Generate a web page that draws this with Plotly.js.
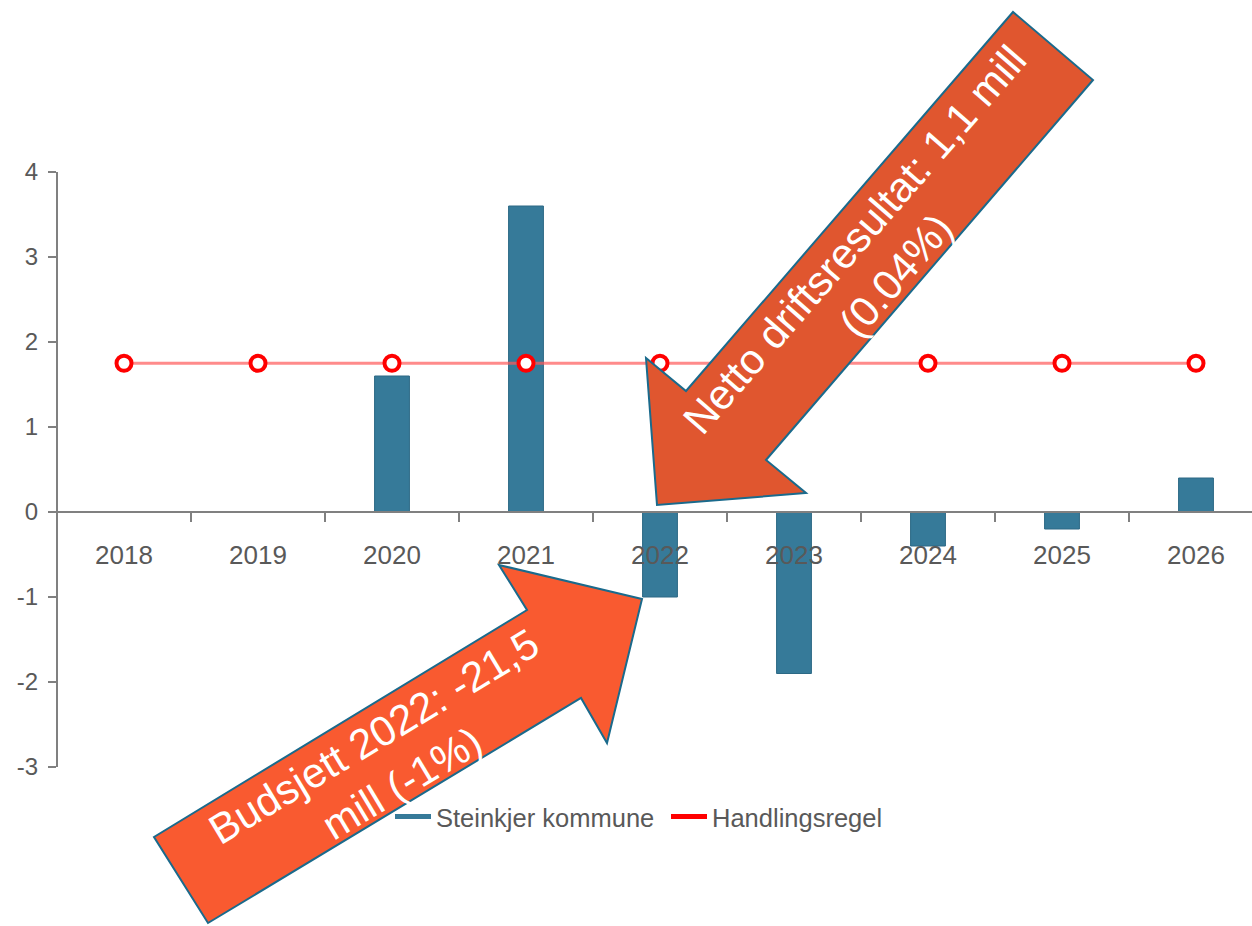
<!DOCTYPE html>
<html>
<head>
<meta charset="utf-8">
<script src="https://cdn.plot.ly/plotly-3.0.1.min.js"></script>
<style>html,body{margin:0;padding:0;background:#fff;}#chart{width:1252px;height:926px;}</style>
</head>
<body>
<div id="chart"></div>
<script>
// ---- data ----
var years = ['2018','2019','2020','2021','2022','2023','2024','2025','2026'];
var steinkjerValues = [null, null, 1.6, 3.6, -1.0, -1.9, -0.4, -0.2, 0.4];
var handlingsregelValues = [1.75, 1.75, 1.75, 1.75, 1.75, 1.75, 1.75, 1.75, 1.75];
var yTicks = [-3, -2, -1, 0, 1, 2, 3, 4];
var seriesNames = ['Steinkjer kommune', 'Handlingsregel'];
var calloutTop = 'Netto driftsresultat: 1,1 mill<br>(0.04%)';
var calloutBottom = 'Budsjett 2022: -21,5<br>mill (-1%)';

// ---- layout helpers (pixel -> paper) ----
var W = 1252, H = 926;
var M = {l: 58, r: 0, t: 172, b: 159};
var PW = W - M.l - M.r, PH = H - M.t - M.b;
function px(x){ return (x - M.l) / PW; }
function py(y){ return (H - M.b - y) / PH; }
function pathFrom(pts){
  return pts.map(function(p, i){ return (i ? 'L' : 'M') + px(p[0]).toFixed(5) + ',' + py(p[1]).toFixed(5); }).join(' ') + ' Z';
}

var blue = '#367a99';
var font = 'Liberation Sans, Arial, sans-serif';
var grey = '#595959';

var traces = [
  {
    type: 'bar', x: years, y: steinkjerValues, name: seriesNames[0],
    width: 0.26, showlegend: false,
    marker: {color: blue, line: {color: '#2c6985', width: 1}}
  },
  {
    type: 'scatter', mode: 'lines+markers', x: years, y: handlingsregelValues, name: seriesNames[1],
    showlegend: false,
    line: {color: 'rgba(255,90,90,0.7)', width: 3},
    marker: {symbol: 'circle', size: 15, color: '#ffffff', line: {color: '#ff0000', width: 4}}
  },
  {
    type: 'scatter', mode: 'lines', x: [null], y: [null], name: seriesNames[0],
    line: {color: blue, width: 5}, hoverinfo: 'skip'
  },
  {
    type: 'scatter', mode: 'lines', x: [null], y: [null], name: seriesNames[1],
    line: {color: '#ff0000', width: 5}, hoverinfo: 'skip'
  }
];

var topArrow = [[657,505],[646,358],[686,391],[1013,12],[1093,80],[766,460],[806,493]];
var bottomArrow = [[642,599],[499,565],[527,610],[154,837],[208,923],[581,698],[607,743]];

var layout = {
  width: W, height: H,
  margin: M,
  paper_bgcolor: '#ffffff', plot_bgcolor: '#ffffff',
  font: {family: font, color: grey, size: 25},
  showlegend: true,
  legend: {
    orientation: 'h', x: px(390), xanchor: 'left', y: py(817), yanchor: 'middle',
    font: {family: font, size: 25.5, color: grey},
    itemwidth: 36, entrywidth: 225, entrywidthmode: 'pixels',
    bgcolor: 'rgba(0,0,0,0)'
  },
  xaxis: {
    type: 'category', range: [-(124 - M.l) / 134, 8 + (W - 1196) / 134],
    anchor: 'free', position: 3 / 7,
    showline: true, linecolor: '#808080', linewidth: 2,
    ticks: 'outside', tickson: 'boundaries', ticklen: 9, tickwidth: 2, tickcolor: '#808080',
    ticklabelstandoff: 20,
    showgrid: false, zeroline: false,
    tickfont: {family: font, size: 26, color: grey}
  },
  yaxis: {
    range: [-3, 4], tickvals: yTicks, ticktext: yTicks.map(String),
    showline: true, linecolor: '#808080', linewidth: 2,
    ticks: 'outside', ticklen: 8, tickwidth: 2, tickcolor: '#808080',
    ticklabelstandoff: 5,
    showgrid: false, zeroline: false,
    tickfont: {family: font, size: 24, color: grey}
  },
  shapes: [
    {type: 'path', xref: 'paper', yref: 'paper', path: pathFrom(topArrow),
     fillcolor: '#e0562f', line: {color: '#1a6a8c', width: 2}, layer: 'above'},
    {type: 'path', xref: 'paper', yref: 'paper', path: pathFrom(bottomArrow),
     fillcolor: '#f95a30', line: {color: '#1a6a8c', width: 2}, layer: 'above'}
  ],
  annotations: [
    {xref: 'paper', yref: 'paper', x: px(875), y: py(258), xanchor: 'center', yanchor: 'middle',
     text: calloutTop, textangle: -49, showarrow: false,
     font: {family: font, size: 42, color: '#ffffff'}},
    {xref: 'paper', yref: 'paper', x: px(388), y: py(760), xanchor: 'center', yanchor: 'middle',
     text: calloutBottom, textangle: -31, showarrow: false,
     font: {family: font, size: 42, color: '#ffffff'}}
  ]
};

Plotly.newPlot('chart', traces, layout, {displayModeBar: false, responsive: false});
</script>
</body>
</html>
